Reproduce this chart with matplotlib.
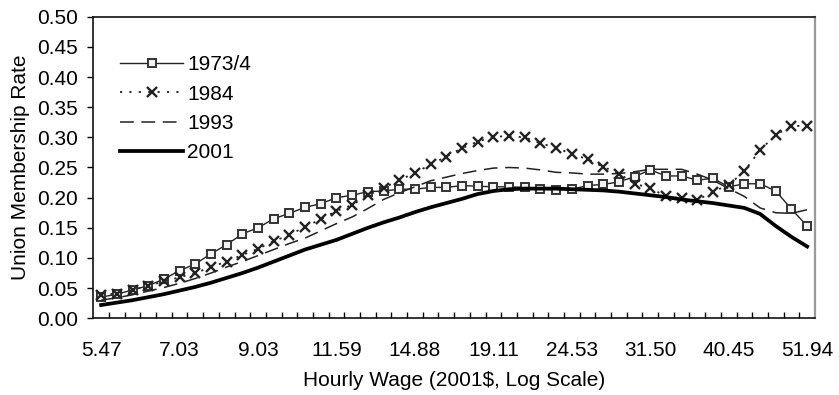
import matplotlib
matplotlib.use('Agg')
import matplotlib.pyplot as plt
import numpy as np

plt.rcParams['font.family'] = ['Liberation Sans', 'DejaVu Sans']

# tick labels on the wage axis (every 5th wage group)
wage_labels = ['5.47', '7.03', '9.03', '11.59', '14.88',
               '19.11', '24.53', '31.50', '40.45', '51.94']

# union membership rate per wage group (46 groups, log-spaced wages)
rate_1973 = [0.035, 0.040, 0.047, 0.054, 0.065, 0.079, 0.090, 0.107, 0.122, 0.140,
             0.150, 0.165, 0.174, 0.184, 0.190, 0.200, 0.204, 0.210, 0.211, 0.214,
             0.214, 0.217, 0.217, 0.220, 0.219, 0.218, 0.218, 0.217, 0.214, 0.213,
             0.214, 0.220, 0.222, 0.226, 0.235, 0.246, 0.236, 0.236, 0.229, 0.232,
             0.218, 0.223, 0.223, 0.211, 0.181, 0.153]
rate_1984 = [0.039, 0.041, 0.047, 0.054, 0.061, 0.068, 0.075, 0.085, 0.094, 0.105,
             0.115, 0.128, 0.138, 0.152, 0.164, 0.178, 0.188, 0.204, 0.216, 0.229,
             0.241, 0.255, 0.268, 0.282, 0.293, 0.301, 0.302, 0.300, 0.290, 0.283,
             0.272, 0.264, 0.251, 0.240, 0.223, 0.216, 0.202, 0.199, 0.196, 0.210,
             0.221, 0.244, 0.279, 0.304, 0.319, 0.319]
rate_1993 = [0.030, 0.034, 0.039, 0.045, 0.051, 0.058, 0.066, 0.075, 0.085, 0.094,
             0.104, 0.114, 0.124, 0.133, 0.145, 0.157, 0.168, 0.182, 0.197, 0.208,
             0.218, 0.228, 0.234, 0.240, 0.245, 0.249, 0.250, 0.249, 0.246, 0.242,
             0.241, 0.239, 0.239, 0.240, 0.243, 0.247, 0.247, 0.247, 0.239, 0.229,
             0.215, 0.202, 0.183, 0.175, 0.174, 0.180]
rate_2001 = [0.022, 0.026, 0.030, 0.035, 0.040, 0.046, 0.052, 0.059, 0.067, 0.075,
             0.084, 0.094, 0.104, 0.114, 0.122, 0.130, 0.140, 0.150, 0.159, 0.167,
             0.176, 0.184, 0.191, 0.198, 0.206, 0.211, 0.214, 0.215, 0.215, 0.215,
             0.214, 0.213, 0.212, 0.210, 0.207, 0.204, 0.201, 0.197, 0.194, 0.191,
             0.187, 0.183, 0.173, 0.153, 0.135, 0.119]

n = len(rate_1973)
x = np.arange(n) + 0.5

fig = plt.figure(figsize=(8.39, 3.95), dpi=100)
ax = fig.add_axes([0.1112, 0.1942, 0.9714 - 0.1112, 0.9577 - 0.1942])

ax.plot(x, rate_1973, color='#222222', lw=1.0, marker='s', ms=5.8,
        mfc='#f2f2f2', mec='#333333', mew=1.4, label='1973/4')
ax.plot(x, rate_1984, color='#222222', lw=1.3, ls=(0, (1.2, 4)), marker='x',
        ms=7, mew=1.7, mec='#222222', label='1984')
ax.plot(x, rate_1993, color='#222222', lw=1.1, ls=(0, (9, 5)), label='1993')
ax.plot(x, rate_2001, color='black', lw=2.7, label='2001')

ax.set_xlim(0, n)
ax.set_ylim(0, 0.5)
ax.set_yticks(np.arange(0, 0.501, 0.05))
ax.set_yticklabels(['%.2f' % v for v in np.arange(0, 0.501, 0.05)])
ax.set_xticks(x[::5])
ax.set_xticklabels(wage_labels)
ax.set_xticks(np.arange(1, n), minor=True)

ax.tick_params(axis='y', direction='out', length=4, width=1, pad=7, labelsize=15)
ax.tick_params(axis='x', which='major', length=0, pad=16, labelsize=15)
ax.tick_params(axis='x', which='minor', direction='in', length=4.5, width=1)

ax.set_xlabel('Hourly Wage (2001$, Log Scale)', fontsize=15, labelpad=8)
ax.set_ylabel('Union Membership Rate', fontsize=15, labelpad=5)

for s in ['left', 'bottom', 'top']:
    ax.spines[s].set_color('#111111')
    ax.spines[s].set_linewidth(1.2)
ax.spines['right'].set_color('#999999')
ax.spines['right'].set_linewidth(1.6)

ax.legend(loc='upper left', bbox_to_anchor=(0.026, 0.90), frameon=False,
          fontsize=15, numpoints=1, handlelength=3.0, handletextpad=0.2,
          labelspacing=0.5, borderaxespad=0)

fig.savefig('out.png', dpi=100)
